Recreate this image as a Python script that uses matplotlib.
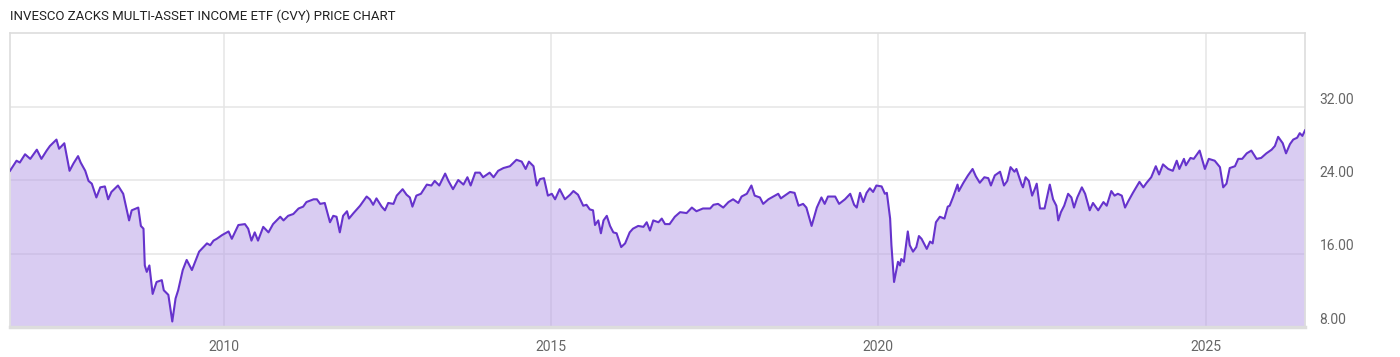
import matplotlib.pyplot as plt

# CVY weekly-ish closing prices (decimal year, USD)
years = [
    2006.73, 2006.83, 2006.88, 2006.96, 2007.04, 2007.14, 2007.21, 2007.29, 2007.34, 2007.44,
    2007.48, 2007.56, 2007.64, 2007.70, 2007.77, 2007.81, 2007.88, 2007.93, 2007.98, 2008.05,
    2008.11, 2008.18, 2008.23, 2008.28, 2008.38, 2008.46, 2008.50, 2008.55, 2008.59, 2008.69,
    2008.73, 2008.77, 2008.79, 2008.82, 2008.86, 2008.91, 2008.97, 2009.05, 2009.08, 2009.15,
    2009.21, 2009.26, 2009.30, 2009.37, 2009.43, 2009.51, 2009.56, 2009.62, 2009.74, 2009.79,
    2009.84, 2009.89, 2009.97, 2010.07, 2010.12, 2010.22, 2010.32, 2010.37, 2010.42, 2010.47,
    2010.52, 2010.60, 2010.68, 2010.75, 2010.86, 2010.91, 2010.98, 2011.06, 2011.14, 2011.21,
    2011.26, 2011.37, 2011.42, 2011.47, 2011.54, 2011.62, 2011.67, 2011.72, 2011.77, 2011.82,
    2011.88, 2011.91, 2011.98, 2012.08, 2012.18, 2012.23, 2012.28, 2012.33, 2012.41, 2012.46,
    2012.51, 2012.59, 2012.64, 2012.73, 2012.79, 2012.84, 2012.88, 2012.94, 2013.01, 2013.10,
    2013.17, 2013.22, 2013.29, 2013.38, 2013.43, 2013.50, 2013.58, 2013.66, 2013.72, 2013.77,
    2013.84, 2013.91, 2013.96, 2014.06, 2014.12, 2014.19, 2014.27, 2014.37, 2014.47, 2014.55,
    2014.61, 2014.66, 2014.73, 2014.78, 2014.83, 2014.89, 2014.95, 2015.01, 2015.06, 2015.13,
    2015.21, 2015.29, 2015.34, 2015.41, 2015.49, 2015.54, 2015.59, 2015.64, 2015.67, 2015.72,
    2015.76, 2015.80, 2015.85, 2015.90, 2015.95, 2016.00, 2016.07, 2016.13, 2016.20, 2016.25,
    2016.33, 2016.41, 2016.46, 2016.51, 2016.56, 2016.64, 2016.69, 2016.74, 2016.81, 2016.89,
    2016.97, 2017.07, 2017.15, 2017.22, 2017.32, 2017.43, 2017.48, 2017.55, 2017.63, 2017.71,
    2017.78, 2017.86, 2017.91, 2017.99, 2018.06, 2018.11, 2018.19, 2018.24, 2018.32, 2018.42,
    2018.47, 2018.51, 2018.65, 2018.72, 2018.78, 2018.85, 2018.90, 2018.98, 2019.06, 2019.13,
    2019.18, 2019.23, 2019.34, 2019.40, 2019.49, 2019.57, 2019.63, 2019.67, 2019.72, 2019.77,
    2019.82, 2019.87, 2019.92, 2019.97, 2020.05, 2020.10, 2020.13, 2020.18, 2020.20, 2020.24,
    2020.28, 2020.30, 2020.33, 2020.35, 2020.39, 2020.45, 2020.48, 2020.53, 2020.58, 2020.62,
    2020.66, 2020.74, 2020.79, 2020.83, 2020.88, 2020.94, 2021.01, 2021.06, 2021.09, 2021.14,
    2021.21, 2021.23, 2021.30, 2021.37, 2021.44, 2021.49, 2021.55, 2021.62, 2021.68, 2021.72,
    2021.78, 2021.86, 2021.90, 2021.92, 2021.97, 2022.02, 2022.08, 2022.11, 2022.19, 2022.21,
    2022.25, 2022.30, 2022.35, 2022.39, 2022.42, 2022.47, 2022.54, 2022.62, 2022.67, 2022.72,
    2022.75, 2022.79, 2022.84, 2022.90, 2022.95, 2022.99, 2023.04, 2023.11, 2023.16, 2023.23,
    2023.28, 2023.36, 2023.44, 2023.49, 2023.56, 2023.61, 2023.66, 2023.72, 2023.77, 2023.82,
    2023.89, 2023.99, 2024.05, 2024.10, 2024.17, 2024.24, 2024.29, 2024.35, 2024.43, 2024.50,
    2024.56, 2024.60, 2024.67, 2024.70, 2024.77, 2024.82, 2024.91, 2024.99, 2025.05, 2025.14,
    2025.22, 2025.27, 2025.32, 2025.37, 2025.45, 2025.50, 2025.56, 2025.63, 2025.70, 2025.78,
    2025.85, 2025.93, 2026.01, 2026.06, 2026.11, 2026.18, 2026.23, 2026.29, 2026.34, 2026.40,
    2026.44, 2026.48, 2026.52,
]
prices = [
    25.0, 26.1, 25.9, 26.8, 26.3, 27.3, 26.3, 27.2, 27.7, 28.4,
    27.4, 28.0, 25.0, 25.8, 26.6, 25.9, 25.0, 23.9, 23.6, 22.1,
    23.2, 23.3, 21.9, 22.7, 23.4, 22.5, 21.2, 19.6, 20.7, 21.0,
    19.0, 18.7, 14.7, 14.0, 14.7, 11.6, 12.9, 13.1, 12.0, 11.5,
    8.6, 11.1, 12.0, 14.2, 15.3, 14.2, 15.1, 16.2, 17.1, 16.9,
    17.4, 17.6, 18.0, 18.4, 17.6, 19.1, 19.2, 18.7, 17.4, 18.3,
    17.4, 18.9, 18.3, 19.2, 20.0, 19.6, 20.1, 20.3, 20.9, 21.1,
    21.6, 21.9, 21.9, 21.4, 21.5, 19.4, 20.1, 20.0, 18.3, 20.1,
    20.6, 19.8, 20.4, 21.2, 22.2, 21.9, 21.3, 22.0, 21.1, 20.7,
    21.5, 21.4, 22.3, 23.0, 22.4, 22.1, 21.1, 22.3, 22.5, 23.5,
    23.4, 23.9, 23.4, 24.7, 23.9, 23.0, 24.0, 23.5, 24.3, 23.4,
    24.8, 24.8, 24.3, 24.8, 24.3, 25.0, 25.3, 25.5, 26.2, 26.0,
    25.2, 26.0, 25.5, 23.4, 24.1, 24.2, 22.3, 22.5, 21.9, 23.0,
    21.9, 22.4, 22.8, 22.4, 21.2, 21.3, 20.8, 20.7, 19.1, 19.6,
    18.2, 19.6, 20.1, 19.0, 18.3, 18.2, 16.7, 17.1, 18.3, 18.7,
    19.0, 18.9, 19.4, 18.5, 19.6, 19.4, 19.8, 19.2, 19.2, 20.0,
    20.5, 20.4, 21.0, 20.6, 20.9, 20.9, 21.3, 21.4, 21.0, 21.6,
    21.9, 21.5, 22.2, 22.5, 23.4, 22.3, 22.1, 21.4, 21.9, 22.3,
    22.5, 22.0, 22.7, 22.6, 21.2, 21.4, 21.0, 19.0, 21.0, 22.1,
    21.4, 22.2, 22.2, 21.4, 21.9, 22.5, 21.3, 21.0, 22.6, 21.6,
    22.6, 23.1, 22.7, 23.4, 23.3, 22.5, 22.6, 19.8, 16.9, 12.9,
    14.4, 15.1, 14.7, 15.4, 15.1, 18.4, 16.9, 16.2, 16.7, 17.9,
    17.6, 16.5, 17.3, 17.1, 19.4, 20.0, 19.8, 21.1, 21.2, 22.1,
    23.5, 22.8, 23.7, 24.5, 25.2, 24.4, 23.7, 24.3, 24.2, 23.4,
    24.5, 24.9, 23.9, 23.4, 23.9, 25.4, 24.9, 25.2, 23.5, 23.2,
    24.3, 23.9, 22.3, 23.0, 23.6, 20.9, 20.9, 23.5, 21.9, 21.2,
    19.6, 20.5, 21.2, 22.5, 22.1, 21.0, 22.1, 23.2, 22.5, 20.7,
    21.5, 20.7, 21.6, 21.2, 22.8, 22.3, 22.5, 22.3, 21.0, 21.7,
    22.6, 23.8, 23.2, 23.7, 24.3, 25.5, 24.6, 25.7, 25.2, 25.0,
    26.1, 25.2, 26.3, 25.6, 26.4, 26.3, 27.2, 25.2, 26.3, 26.1,
    25.4, 23.2, 23.6, 25.3, 25.5, 26.3, 26.3, 26.9, 27.2, 26.3,
    26.4, 26.9, 27.3, 27.7, 28.7, 28.0, 26.9, 27.9, 28.4, 28.6,
    29.1, 28.8, 29.4,
]

x_ticks = [2010, 2015, 2020, 2025]
y_ticks = [8, 16, 24, 32]

line_color = '#6633cc'
fill_color = '#b49be6'
grid_color = '#e5e5e5'

fig = plt.figure(figsize=(14, 3.57), dpi=100)
ax = fig.add_axes([10 / 1400, 1 - 327 / 357, 1295 / 1400, 294 / 357])

ax.fill_between(years, prices, 8, color=fill_color, alpha=0.5, linewidth=0, zorder=2)
ax.plot(years, prices, color=line_color, linewidth=1.5, zorder=3)

ax.set_xlim(2006.73, 2026.52)
ax.set_ylim(8, 40)
ax.set_xticks(x_ticks)
ax.set_xticklabels([str(t) for t in x_ticks])
ax.set_yticks(y_ticks)
ax.set_yticklabels(['%.2f' % v for v in y_ticks])

ax.grid(True, color=grid_color, linewidth=1.1, zorder=0)
ax.set_axisbelow(True)

ax.tick_params(axis='y', left=False, right=False, labelleft=False, labelright=True,
               pad=7, labelsize=10, labelcolor='#666666')
ax.tick_params(axis='x', bottom=False, pad=6, labelsize=10, labelcolor='#666666')
for lbl in ax.get_yticklabels() + ax.get_xticklabels():
    lbl.set_fontfamily('Roboto')
for lbl in ax.get_yticklabels():
    lbl.set_verticalalignment('bottom')

for side in ['left', 'top', 'right']:
    ax.spines[side].set_color('#dddddd')
    ax.spines[side].set_linewidth(1.2)
ax.spines['bottom'].set_color('#dddddd')
ax.spines['bottom'].set_linewidth(2.5)

fig.text(10 / 1400, 1 - 16 / 357, 'INVESCO ZACKS MULTI-ASSET INCOME ETF (CVY) PRICE CHART',
         fontsize=9.5, family='Roboto', color='#222222', va='center', ha='left')

fig.savefig('out.png', dpi=100)
